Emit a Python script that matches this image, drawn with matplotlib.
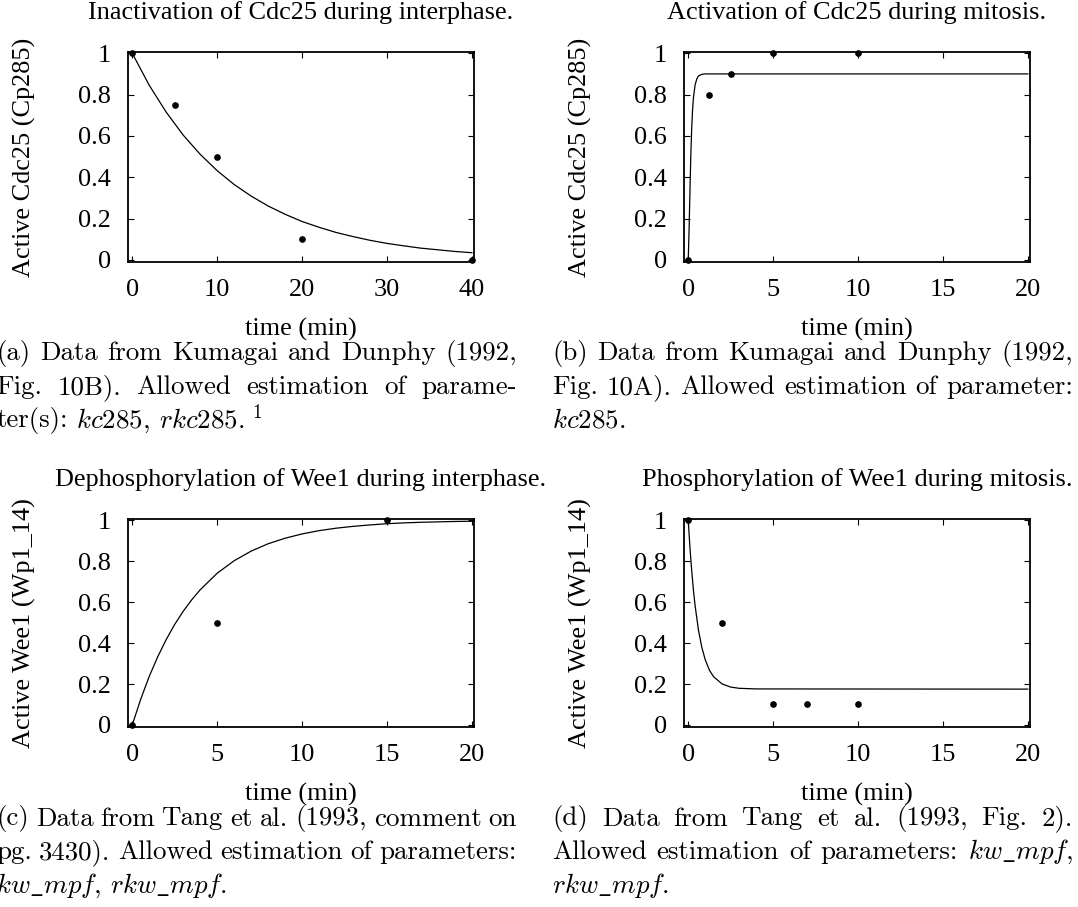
import matplotlib
matplotlib.use("Agg")
import matplotlib.pyplot as plt

W, H = 1078, 907

# (a) inactivation of Cdc25 during interphase
a_time = [0, 5, 10, 20, 40]
a_data = [1.0, 0.75, 0.5, 0.1, 0.0]
a_sim_time = [0, 2, 4, 6, 8, 10, 12, 14, 16, 18, 20, 22, 24, 26, 28, 30, 32, 34, 36, 38, 40]
a_sim = [1.0, 0.845, 0.715, 0.604, 0.511, 0.432, 0.365, 0.309, 0.261, 0.221, 0.186,
         0.158, 0.133, 0.113, 0.095, 0.080, 0.068, 0.057, 0.049, 0.041, 0.035]

# (b) activation of Cdc25 during mitosis
b_time = [0, 1.25, 2.5, 5, 10]
b_data = [0.0, 0.8, 0.9, 1.0, 1.0]
b_sim_time = [0, 0.05, 0.1, 0.15, 0.2, 0.25, 0.3, 0.4, 0.5, 0.6, 0.8, 1.0, 20]
b_sim = [0.0, 0.15, 0.33, 0.50, 0.63, 0.72, 0.78, 0.845, 0.875, 0.89, 0.898, 0.9, 0.9]

# (c) dephosphorylation of Wee1 during interphase
c_time = [0, 5, 15]
c_data = [0.0, 0.5, 1.0]
c_sim_time = [0, 0.5, 1, 1.5, 2, 2.5, 3, 3.5, 4, 5, 6, 7, 8, 9, 10, 11, 12, 13, 14, 15, 16, 17, 18, 19, 20]
c_sim = [0.0, 0.126, 0.237, 0.333, 0.417, 0.491, 0.555, 0.611, 0.660, 0.741, 0.802, 0.849,
         0.885, 0.912, 0.933, 0.949, 0.961, 0.970, 0.977, 0.983, 0.987, 0.990, 0.992, 0.994, 0.995]

# (d) phosphorylation of Wee1 during mitosis
d_time = [0, 2, 5, 7, 10]
d_data = [1.0, 0.5, 0.1, 0.1, 0.1]
d_sim_time = [0, 0.1, 0.2, 0.3, 0.4, 0.6, 0.8, 1.0, 1.25, 1.5, 2.0, 2.5, 3.0, 4.0, 20]
d_sim = [1.0, 0.867, 0.757, 0.663, 0.585, 0.464, 0.379, 0.319, 0.267, 0.235, 0.200,
         0.185, 0.179, 0.176, 0.175]

titles = ["Inactivation of Cdc25 during interphase.",
          "Activation of Cdc25 during mitosis.",
          "Dephosphorylation of Wee1 during interphase.",
          "Phosphorylation of Wee1 during mitosis."]
ylabels = ["Active Cdc25 (Cp285)", "Active Cdc25 (Cp285)",
           "Active Wee1 (Wp1_14)", "Active Wee1 (Wp1_14)"]
yticks = [0, 0.2, 0.4, 0.6, 0.8, 1]
ytick_labels = ["0", "0.2", "0.4", "0.6", "0.8", "1"]

captions = [
    [("(a) Data from Kumagai and Dunphy (1992,", True),
     ("Fig. 10B). Allowed estimation of parame-", True),
     ("ter(s): $kc$285, $rkc$285.", False)],
    [("(b) Data from Kumagai and Dunphy (1992,", True),
     ("Fig. 10A). Allowed estimation of parameter:", True),
     ("$kc$285.", False)],
    [("(c) Data from Tang et al. (1993, comment on", True),
     ("pg. 3430). Allowed estimation of parameters:", True),
     (r"$kw\_mpf$, $rkw\_mpf$.", False)],
    [("(d) Data from Tang et al. (1993, Fig. 2).", True),
     (r"Allowed estimation of parameters: $kw\_mpf$,", True),
     (r"$rkw\_mpf$.", False)],
]

plt.rcParams['font.family'] = 'Liberation Serif'
plt.rcParams['mathtext.fontset'] = 'cm'

fig = plt.figure(figsize=(W / 100, H / 100), dpi=100)
renderer = fig.canvas.get_renderer()

GFS = 18.9    # gnuplot text size
CFS = 19.4    # caption size


def px(x, y):
    return x / W, 1 - y / H


def panel(box, title, ylabel, xlim, xticks, t, v, st, sv):
    l, r, top, bot = box
    ax = fig.add_axes([l / W, 1 - bot / H, (r - l) / W, (bot - top) / H])
    ax.plot(st, sv, color='black', lw=0.9)
    ax.plot(t, v, 'o', color='black', ms=3.8, clip_on=False)
    ax.set_xlim(*xlim)
    ax.set_ylim(-0.01, 1.006)
    ax.set_xticks(xticks)
    ax.set_xticklabels([str(x) for x in xticks])
    ax.set_yticks(yticks)
    ax.set_yticklabels(ytick_labels)
    ax.tick_params(direction='in', top=True, right=True, length=4.5, width=0.8,
                   labelsize=GFS)
    ax.tick_params(axis='x', pad=12.5)
    ax.tick_params(axis='y', pad=12)
    for s in ax.spines.values():
        s.set_linewidth(1.3)
    cx = (l + r) / 2
    fig.text(*px(cx, top - 39), title, ha='center', va='center', fontsize=GFS)
    fig.text(*px(cx, bot + 67.3), "time (min)", ha='center', va='center', fontsize=GFS)
    fig.text(*px(l - 104, (top + bot) / 2), ylabel, rotation=90,
             ha='center', va='center', fontsize=GFS)
    return ax


def caption(lines, x0, x1, y0, step=33.5):
    end = x0
    for i, (txt, justify) in enumerate(lines):
        yb = y0 + i * step
        words = txt.split(' ')
        objs = [fig.text(0, 0, w, fontsize=CFS, family='cmr10', va='baseline')
                for w in words]
        widths = [o.get_window_extent(renderer).width for o in objs]
        if justify and len(words) > 1:
            gap = (x1 - x0 - sum(widths)) / (len(words) - 1)
        else:
            gap = 0.333 * CFS * 100 / 72
        x = x0
        for o, w in zip(objs, widths):
            o.set_position(px(x, yb))
            x += w + gap
        end = x - gap
    return end, y0 + (len(lines) - 1) * step


panel((128, 474, 52, 262), titles[0], ylabels[0], (-0.5, 40.25), [0, 10, 20, 30, 40],
      a_time, a_data, a_sim_time, a_sim)
panel((684, 1030, 52, 262), titles[1], ylabels[1], (-0.25, 20.13), [0, 5, 10, 15, 20],
      b_time, b_data, b_sim_time, b_sim)
panel((128, 474, 519, 727), titles[2], ylabels[2], (-0.25, 20.13), [0, 5, 10, 15, 20],
      c_time, c_data, c_sim_time, c_sim)
panel((684, 1030, 519, 727), titles[3], ylabels[3], (-0.25, 20.13), [0, 5, 10, 15, 20],
      d_time, d_data, d_sim_time, d_sim)

xe, ye = caption(captions[0], -4, 517, 360.5)
fig.text(*px(xe + 8, ye - 10), "1", fontsize=13.5, family='cmr10', va='baseline')
caption(captions[1], 552, 1073, 360.5)
caption(captions[2], -4, 517, 825.5)
caption(captions[3], 552, 1073, 825.5)

fig.savefig("out.png", dpi=100)
